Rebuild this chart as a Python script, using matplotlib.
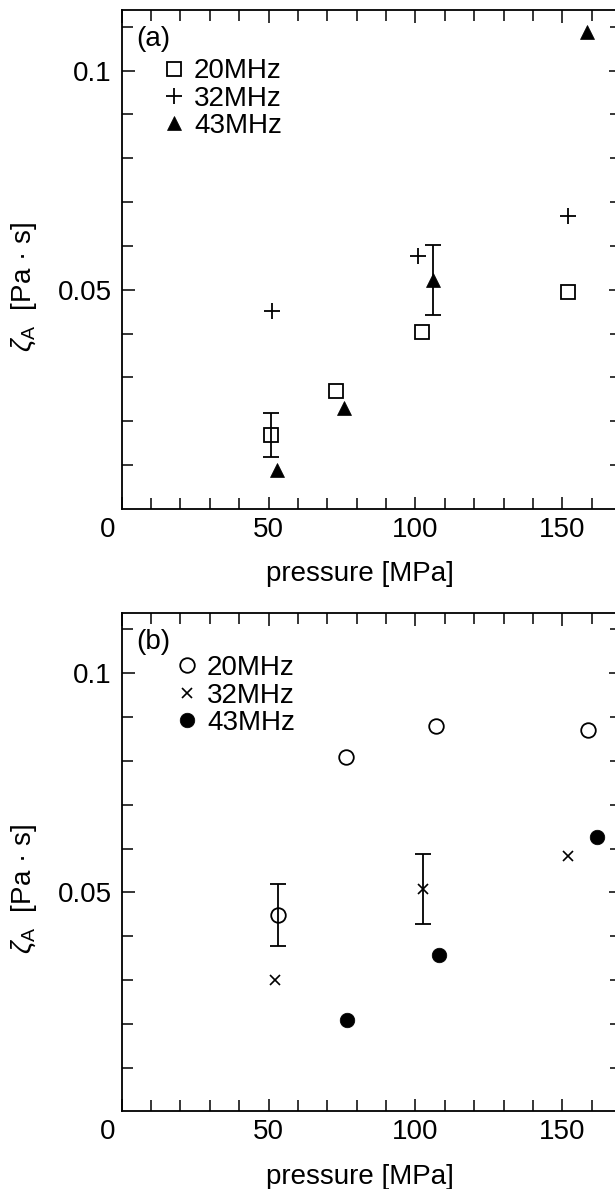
import matplotlib
matplotlib.use('Agg')
import matplotlib.pyplot as plt
import numpy as np
from matplotlib.transforms import ScaledTranslation

plt.rcParams['font.family'] = ['Liberation Sans', 'DejaVu Sans']
plt.rcParams['mathtext.fontset'] = 'custom'
plt.rcParams['mathtext.rm'] = 'Liberation Sans'
plt.rcParams['mathtext.it'] = 'Liberation Sans:italic'

freq_labels = ['20MHz', '32MHz', '43MHz']

# (a) -- pressure [MPa], zeta_A [Pa s], error bars (0 = none)
p_a_20 = [50.7, 72.9, 102.1, 151.9]
z_a_20 = [0.0169, 0.0268, 0.0404, 0.0494]
e_a_20 = [0.005, 0, 0, 0]
p_a_32 = [51.1, 101.0, 151.9]
z_a_32 = [0.0452, 0.0578, 0.0668]
e_a_32 = [0, 0, 0]
p_a_43 = [52.8, 75.8, 105.9, 158.5]
z_a_43 = [0.0090, 0.0231, 0.0522, 0.1088]
e_a_43 = [0, 0, 0.008, 0]

# (b)
p_b_20 = [53.3, 76.3, 106.9, 158.9]
z_b_20 = [0.0448, 0.0809, 0.0879, 0.0870]
e_b_20 = [0.007, 0, 0, 0]
p_b_32 = [52.3, 102.5, 151.9]
z_b_32 = [0.0299, 0.0507, 0.0584]
e_b_32 = [0, 0.008, 0]
p_b_43 = [76.7, 108.0, 161.7]
z_b_43 = [0.0208, 0.0356, 0.0626]
e_b_43 = [0, 0, 0]

FS = 20


def draw_panel(ax, series, styles, tag, leg_xy):
    for (p, z, e), st, lab in zip(series, styles, freq_labels):
        p, z, e = np.array(p), np.array(z), np.array(e)
        ax.plot(p, z, linestyle='none', color='k', label=lab, zorder=3, **st)
        m = e > 0
        if m.any():
            ax.errorbar(p[m], z[m], yerr=e[m], fmt='none', ecolor='k',
                        elinewidth=1.3, capsize=6, capthick=1.3, zorder=2)
    ax.set_xlim(0, 170)
    ax.set_ylim(0, 0.1138)
    ax.set_xticks([0, 50, 100, 150])
    ax.set_xticklabels(['0', '50', '100', '150'])
    ax.set_xticks(np.arange(0, 171, 10), minor=True)
    ax.set_yticks([0.05, 0.1])
    ax.set_yticklabels(['0.05', '0.1'])
    ax.set_yticks(np.arange(0.01, 0.115, 0.01), minor=True)
    ax.tick_params(which='both', direction='in', top=True, right=True,
                   width=1.1, labelsize=FS)
    ax.tick_params(which='major', length=9)
    ax.tick_params(axis='x', which='major', pad=5.5)
    ax.tick_params(axis='y', which='major', pad=7)
    ax.tick_params(which='minor', length=8)
    for s in ax.spines.values():
        s.set_linewidth(1.3)
    # the shared origin label sits left of the corner
    lab0 = ax.xaxis.get_major_ticks()[0].label1
    lab0.set_transform(lab0.get_transform() +
                       ScaledTranslation(-0.14, 0, ax.figure.dpi_scale_trans))
    ax.set_xlabel('pressure [MPa]', fontsize=FS)
    ax.xaxis.set_label_coords(0.477, -0.105)
    ax.set_ylabel(r'$\zeta_{\mathrm{A}}$  [Pa · s]', fontsize=FS)
    ax.yaxis.set_label_coords(-0.165, 0.445)
    ax.text(0.03, 0.968, tag, transform=ax.transAxes, fontsize=FS,
            ha='left', va='top')
    ax.legend(loc='upper left', bbox_to_anchor=leg_xy, frameon=False,
              fontsize=FS, handlelength=1.0, handletextpad=0.22,
              labelspacing=0.05, borderpad=0, borderaxespad=0)


fig = plt.figure(figsize=(6.15, 11.89), dpi=100)
ax1 = fig.add_axes([0.1979, 0.5719, 0.8119, 0.4197])
ax2 = fig.add_axes([0.1979, 0.0653, 0.8119, 0.4193])

styles_a = [dict(marker='s', ms=10, mfc='none', mew=1.3),
            dict(marker='+', ms=12, mew=1.3),
            dict(marker='^', ms=10.5, mew=0.5)]
styles_b = [dict(marker='o', ms=10.5, mfc='none', mew=1.3),
            dict(marker='x', ms=7.5, mew=1.2),
            dict(marker='o', ms=10.5, mew=0.5)]

draw_panel(ax1, [(p_a_20, z_a_20, e_a_20), (p_a_32, z_a_32, e_a_32),
                 (p_a_43, z_a_43, e_a_43)], styles_a, '(a)', (0.077, 0.903))
draw_panel(ax2, [(p_b_20, z_b_20, e_b_20), (p_b_32, z_b_32, e_b_32),
                 (p_b_43, z_b_43, e_b_43)], styles_b, '(b)', (0.103, 0.915))

fig.savefig('out.png', dpi=100)
